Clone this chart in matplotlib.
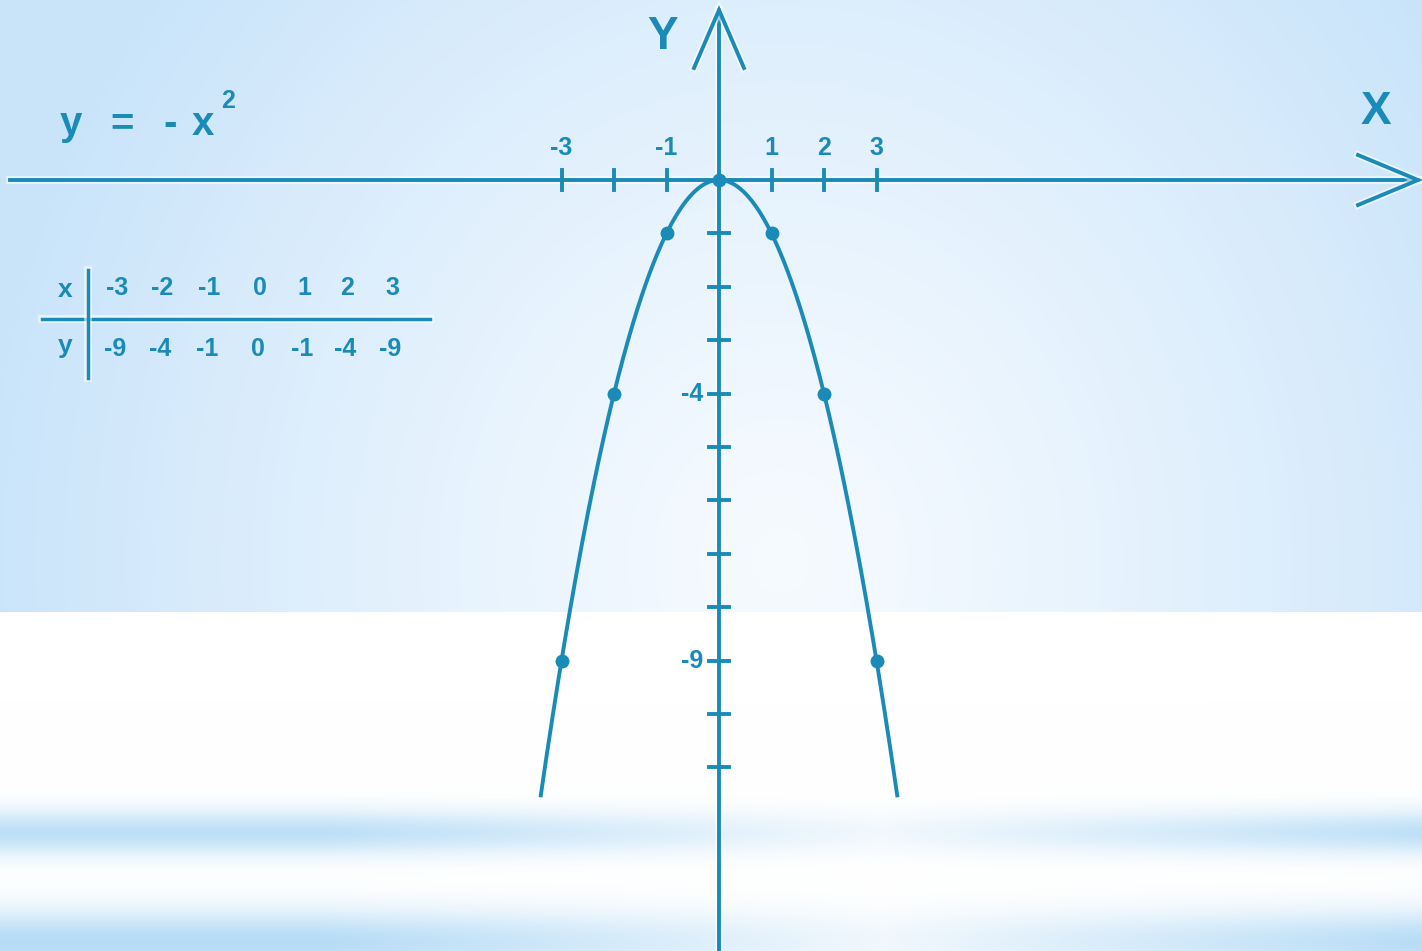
import numpy as np
import matplotlib.pyplot as plt
import matplotlib.patheffects as pe

# table / points of y = -x^2
x_vals = [-3, -2, -1, 0, 1, 2, 3]
y_vals = [-9, -4, -1, 0, -1, -4, -9]
x_tick_pos = [-3, -2, -1, 1, 2, 3]
x_tick_lab = ['-3', '-1', '1', '2', '3']
x_tick_lab_pos = [-3, -1, 1, 2, 3]
y_tick_pos = [-1, -2, -3, -4, -5, -6, -7, -8, -9, -10, -11]
y_tick_lab = ['-4', '-9']
y_tick_lab_pos = [-4, -9]

W, H = 1422, 951
ox, oy = 719, 180          # origin in pixels
sx, sy = 52.5, 53.4        # pixels per unit

col = '#1a8bb6'
fnt = 'Liberation Sans'

fig = plt.figure(figsize=(W / 100, H / 100), dpi=100)
ax = fig.add_axes([0, 0, 1, 1])
x0, x1 = -ox / sx, (W - ox) / sx
y0, y1 = -(H - oy) / sy, oy / sy
ax.set_xlim(x0, x1)
ax.set_ylim(y0, y1)
ax.axis('off')


def P(px, py):
    # pixel position -> data coords
    return (px - ox) / sx, (oy - py) / sy


def label(px, py, s, size=18, **kw):
    ax.text(*P(px, py), s, color=col, fontsize=size, fontweight='bold', family=fnt,
            ha=kw.pop('ha', 'center'), va='center', zorder=3, **kw)


# background: soft blue vignette on top, white with blurred stripes below
yy, xx = np.mgrid[0:H, 0:W].astype(float)
r = np.sqrt(((xx - 780) / 800) ** 2 + ((yy - 560) / 900) ** 2)
t = np.clip(r, 0, 1) ** 1.2
c_in = np.array([0.965, 0.982, 1.0])
c_out = np.array([0.79, 0.895, 0.98])
top = c_in + (c_out - c_in) * t[..., None]
band = 0.85 * np.exp(-((yy - 832) / 22) ** 2) + 0.95 * np.exp(-((yy - 942) / 32) ** 2)
wgt = np.clip(np.abs(xx - 880) / 560, 0, 1) * 0.8 + 0.2
band = np.clip(band * wgt, 0, 1)
c_band = np.array([0.70, 0.855, 0.965])
bot = 1 + (c_band - 1) * band[..., None]
img = np.where((yy < 612)[..., None], top, bot)
ax.imshow(img, extent=(x0, x1, y0, y1), aspect='auto', zorder=0)

glow = [pe.withStroke(linewidth=5.5, foreground='white', alpha=0.6)]
lw = 2.8

# axes with open arrow heads
xa0, xa1 = P(10, 0)[0], P(1418, 0)[0]
ya1 = P(0, 10)[1]
ax.plot([xa0, xa1], [0, 0], color=col, lw=lw, zorder=2, path_effects=glow)
hx = P(1358, 0)[0]
ax.plot([hx, xa1, hx], [25 / sy, 0, -25 / sy], color=col, lw=lw, zorder=2,
        solid_joinstyle='miter', path_effects=glow)
ax.plot([0, 0], [y0, ya1], color=col, lw=lw, zorder=2, path_effects=glow)
hy = P(0, 68)[1]
ax.plot([-25 / sx, 0, 25 / sx], [hy, ya1, hy], color=col, lw=lw, zorder=2,
        solid_joinstyle='miter', path_effects=glow)

# ticks
tx = 10 / sy
for v in x_tick_pos:
    ax.plot([v, v], [-tx, tx], color=col, lw=lw, zorder=2)
ty = 10 / sx
for v in y_tick_pos:
    ax.plot([-ty, ty], [v, v], color=col, lw=lw, zorder=2)

for v, s in zip(x_tick_lab_pos, x_tick_lab):
    ax.text(v, 32 / sy, s, color=col, fontsize=18, fontweight='bold', family=fnt,
            ha='center', va='center', zorder=3)
for v, s in zip(y_tick_lab_pos, y_tick_lab):
    ax.text(-16 / sx, v, s, color=col, fontsize=18, fontweight='bold', family=fnt,
            ha='right', va='center', zorder=3)

label(663, 37, 'Y', 33)
label(1376, 112, 'X', 33)

# parabola and marked points
xc = np.linspace(-3.4, 3.4, 300)
ax.plot(xc, -xc ** 2, color=col, lw=2.8, zorder=4, solid_capstyle='butt')
ax.plot(x_vals, y_vals, 'o', color=col, ms=9, zorder=5)

# formula y = - x^2
label(71, 124, 'y', 29)
label(122, 124, '=', 29)
label(170, 124, '-', 29)
label(203, 124, 'x', 29)
label(228, 101, '2', 18)

# value table
ax.plot([P(42, 0)[0], P(430, 0)[0]], [P(0, 319)[1]] * 2, color=col, lw=2.5, zorder=2,
        path_effects=glow)
ax.plot([P(88, 0)[0]] * 2, [P(0, 270)[1], P(0, 378)[1]], color=col, lw=2.5, zorder=2,
        path_effects=glow)
label(65, 290, 'x', 19)
label(65, 346, 'y', 19)
col_px = [117, 162, 209, 260, 304, 347, 392]
for cx, a, b in zip(col_px, x_vals, y_vals):
    label(cx, 288, str(a))
    label(cx - 2, 349, str(b))

fig.savefig('out.png', dpi=100)
